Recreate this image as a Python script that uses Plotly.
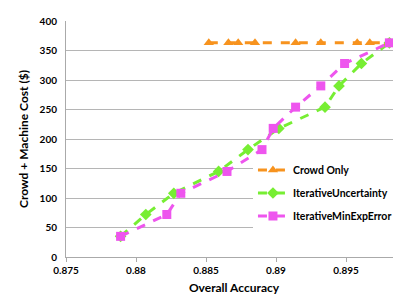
import plotly.graph_objects as go

crowd_x = [0.8852, 0.8866, 0.8873, 0.8885, 0.8914, 0.8932, 0.8958, 0.8967, 0.8980]
crowd_y = [363, 363, 363, 363, 363, 363, 363, 363, 363]

unc_x = [0.8789, 0.8807, 0.8827, 0.8859, 0.8880, 0.8902, 0.8935, 0.8945, 0.8961, 0.8981]
unc_y = [35, 72, 108, 145, 182, 218, 254, 290, 328, 363]

mee_x = [0.8789, 0.8822, 0.8832, 0.8865, 0.8890, 0.8898, 0.8914, 0.8932, 0.8949, 0.8981]
mee_y = [35, 72, 108, 145, 182, 218, 254, 290, 328, 363]

x_ticks = [0.875, 0.88, 0.885, 0.89, 0.895]
x_tick_labels = ["0.875", "0.88", "0.885", "0.89", "0.895"]
y_ticks = [0, 50, 100, 150, 200, 250, 300, 350, 400]

FONT = "Lato"

fig = go.Figure()
fig.add_trace(go.Scatter(
    x=crowd_x, y=crowd_y, name="Crowd Only", mode="lines+markers", legendgroup="a",
    line=dict(color="#F7931E", width=3, dash="dash"),
    marker=dict(symbol="triangle-up", size=9, color="#F7931E"),
))
fig.add_trace(go.Scatter(
    x=unc_x, y=unc_y, name="IterativeUncertainty", mode="lines+markers", legendgroup="b",
    line=dict(color="#77EE33", width=3, dash="dash"),
    marker=dict(symbol="diamond", size=9, color="#77EE33"),
))
fig.add_trace(go.Scatter(
    x=mee_x, y=mee_y, name="IterativeMinExpError", mode="lines+markers", legendgroup="c",
    line=dict(color="#EE55EE", width=3, dash="dash"),
    marker=dict(symbol="square", size=9, color="#EE55EE"),
))

fig.update_layout(
    width=401, height=295,
    margin=dict(l=58, r=7, t=13, b=46, autoexpand=False),
    paper_bgcolor="white", plot_bgcolor="white",
    font=dict(family=FONT, color="black"),
    showlegend=True,
    legend=dict(
        x=0.985, y=0.43, xanchor="right", yanchor="top",
        bgcolor="white", font=dict(family=FONT, size=10.5, color="black", weight="bold"),
        traceorder="grouped", tracegroupgap=4, itemwidth=30,
    ),
    xaxis=dict(
        range=[0.875, 0.899], tickvals=x_ticks, ticktext=x_tick_labels,
        showgrid=False, zeroline=False,
        showline=True, linecolor="#AAAAAA", linewidth=1,
        ticks="outside", ticklen=4, tickcolor="#AAAAAA",
        tickfont=dict(family=FONT, size=10, weight="bold"),
        title=dict(text="Overall Accuracy", font=dict(family=FONT, size=12, weight="bold"), standoff=8),
    ),
    yaxis=dict(
        range=[0, 400], tickvals=y_ticks,
        showgrid=True, gridcolor="#B5B5B5", gridwidth=1, zeroline=False,
        showline=True, linecolor="#AAAAAA", linewidth=1,
        ticks="", ticklabelstandoff=6,
        tickfont=dict(family=FONT, size=10, weight="bold"),
        title=dict(text="Crowd + Machine Cost ($)", font=dict(family=FONT, size=12, weight="bold"), standoff=8),
    ),
)

fig.write_html("out.html")
